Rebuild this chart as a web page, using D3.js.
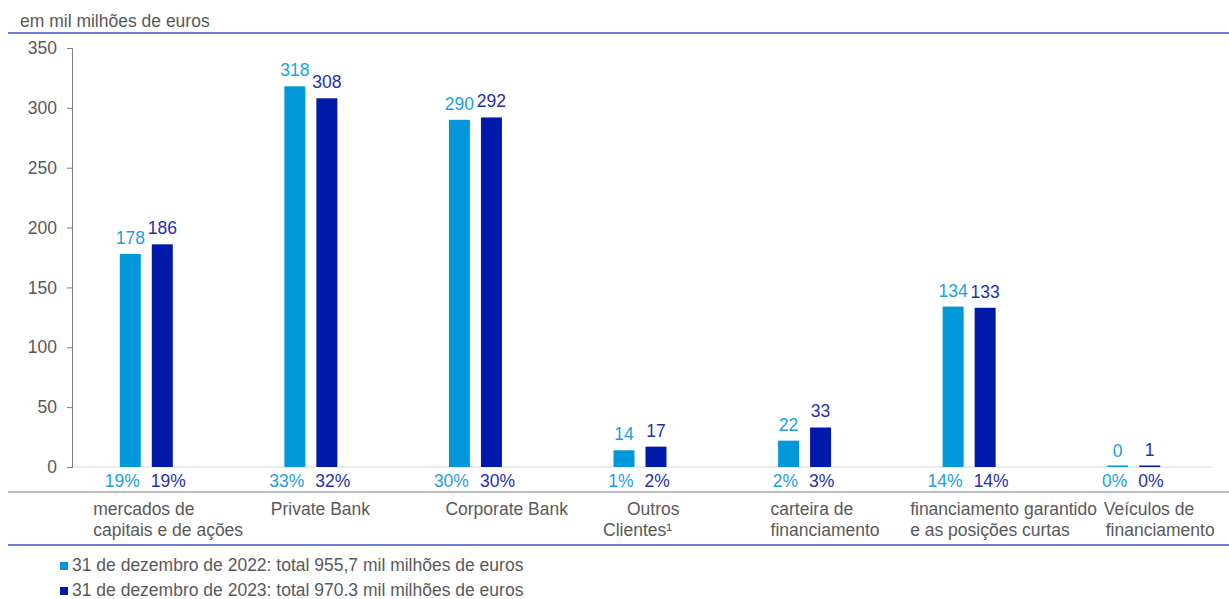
<!DOCTYPE html>
<html>
<head>
<meta charset="utf-8">
<script src="https://cdn.jsdelivr.net/npm/d3@7"></script>
<style>
  body { margin: 0; background: #fff; }
  svg { display: block; font-family: "Liberation Sans", Arial, sans-serif; }
</style>
</head>
<body>
<div id="figure"></div>
<script>
// data
var categories = ["mercados", "private", "corporate", "outros", "carteira", "financiamento", "veiculos"];
var categoryLines = [
  ["mercados de", "capitais e de ações"],
  ["Private Bank"],
  ["Corporate Bank"],
  ["Outros", "Clientes¹"],
  ["carteira de", "financiamento"],
  ["financiamento garantido", "e as posições curtas"],
  ["Veículos de", "financiamento"]
];
var values2022 = [178, 318, 290, 14, 22, 134, 0];
var values2023 = [186, 308, 292, 17, 33, 133, 1];
var share2022 = ["19%", "33%", "30%", "1%", "2%", "14%", "0%"];
var share2023 = ["19%", "32%", "30%", "2%", "3%", "14%", "0%"];
var seriesNames = ["2022", "2023"];
var legendLabels = [
  "31 de dezembro de 2022: total 955,7 mil milhões de euros",
  "31 de dezembro de 2023: total 970.3 mil milhões de euros"
];
var yTicks = [0, 50, 100, 150, 200, 250, 300, 350];
var unitLabel = "em mil milhões de euros";

// label placement (left edge of label relative to group centre, per line)
var labelDx = [[-53, -53], [-40], [-30], [-13, -37], [-34, -34], [-59, -59], [-30, -28]];

var W = 1229, H = 599;
var fs = "17.5px";
var textGray = "#595959";
var colors = {"2022": "#0098da", "2023": "#0019a8"};
var textColors = {"2022": "#1c9fe2", "2023": "#1f2fae"};

var svg = d3.select("#figure").append("svg").attr("width", W).attr("height", H);

var x = d3.scaleBand().domain(categories).range([64, 1216]).padding(0);
var xs = d3.scaleBand().domain(seriesNames).range([-26.5, 26.5]).paddingInner(0.344).paddingOuter(0);
var y = d3.scaleLinear().domain([0, 350]).range([467, 48]);

function barX(name, i) {
  return x(categories[i]) + x.bandwidth() / 2 + xs(name);
}

// unit label + top rule
svg.append("text").attr("x", 20).attr("y", 27)
  .attr("font-size", fs).attr("fill", textGray).text(unitLabel);
svg.append("line").attr("x1", 8).attr("x2", W).attr("y1", 33).attr("y2", 33)
  .attr("stroke", "#3a50cc").attr("stroke-width", 1.5);

// zero line
svg.append("line").attr("x1", 72).attr("x2", 1213).attr("y1", y(0)).attr("y2", y(0))
  .attr("stroke", "#d9d9d9").attr("stroke-width", 1);

// y axis
var yAxis = svg.append("g").attr("transform", "translate(72,0)")
  .call(d3.axisLeft(y).tickValues(yTicks).tickSize(5).tickSizeOuter(5).tickPadding(10));
yAxis.select(".domain").attr("stroke", "#7f7f7f");
yAxis.selectAll(".tick line").attr("stroke", "#7f7f7f");
yAxis.selectAll(".tick text").attr("font-size", fs).attr("fill", textGray)
  .attr("font-family", "Liberation Sans, Arial, sans-serif");

// bars
var series = [
  {name: "2022", values: values2022, share: share2022},
  {name: "2023", values: values2023, share: share2023}
];

series.forEach(function(s, k) {
  var g = svg.append("g").attr("class", "series-" + s.name);
  g.selectAll("rect")
    .data(s.values)
    .enter()
    .append("rect")
    .attr("x", function(d, i) { return barX(s.name, i); })
    .attr("y", function(d) { return Math.min(y(d), y(0) - 1.5); })
    .attr("width", xs.bandwidth())
    .attr("height", function(d) { return Math.max(y(0) - y(d), 1.5); })
    .attr("fill", colors[s.name]);

  g.selectAll("text.val")
    .data(s.values)
    .enter()
    .append("text")
    .attr("class", "val")
    .attr("x", function(d, i) { return barX(s.name, i) + xs.bandwidth() / 2; })
    .attr("y", function(d) { return y(d) - 10; })
    .attr("text-anchor", "middle")
    .attr("font-size", fs)
    .attr("fill", textColors[s.name])
    .text(function(d) { return d; });

  // shares: first series ends at its bar's right edge, second starts at its bar's left edge
  g.selectAll("text.pct")
    .data(s.share)
    .enter()
    .append("text")
    .attr("class", "pct")
    .attr("x", function(d, i) { return k == 0 ? barX(s.name, i) + xs.bandwidth() - 1 : barX(s.name, i) - 1; })
    .attr("y", 487)
    .attr("text-anchor", k == 0 ? "end" : "start")
    .attr("font-size", fs)
    .attr("fill", textColors[s.name])
    .text(function(d) { return d; });
});

// rule below percentages
svg.append("line").attr("x1", 8).attr("x2", W).attr("y1", 492).attr("y2", 492)
  .attr("stroke", "#a6a6a6").attr("stroke-width", 1.5);

// category labels
categoryLines.forEach(function(lines, i) {
  var cx = x(categories[i]) + x.bandwidth() / 2;
  lines.forEach(function(line, j) {
    svg.append("text")
      .attr("x", cx + labelDx[i][j])
      .attr("y", 515 + j * 21)
      .attr("font-size", fs)
      .attr("fill", textGray)
      .text(line);
  });
});

// bottom rule
svg.append("line").attr("x1", 8).attr("x2", W).attr("y1", 545).attr("y2", 545)
  .attr("stroke", "#3a50cc").attr("stroke-width", 1.5);

// legend
var leg = svg.selectAll("g.legitem")
  .data(seriesNames)
  .enter()
  .append("g")
  .attr("class", "legitem")
  .attr("transform", function(d, i) { return "translate(60," + (562 + i * 25) + ")"; });
leg.append("rect").attr("width", 8).attr("height", 8).attr("fill", function(d) { return colors[d]; });
leg.append("text").attr("x", 12).attr("y", 9)
  .attr("font-size", fs).attr("fill", textGray)
  .text(function(d, i) { return legendLabels[i]; });
</script>
</body>
</html>
